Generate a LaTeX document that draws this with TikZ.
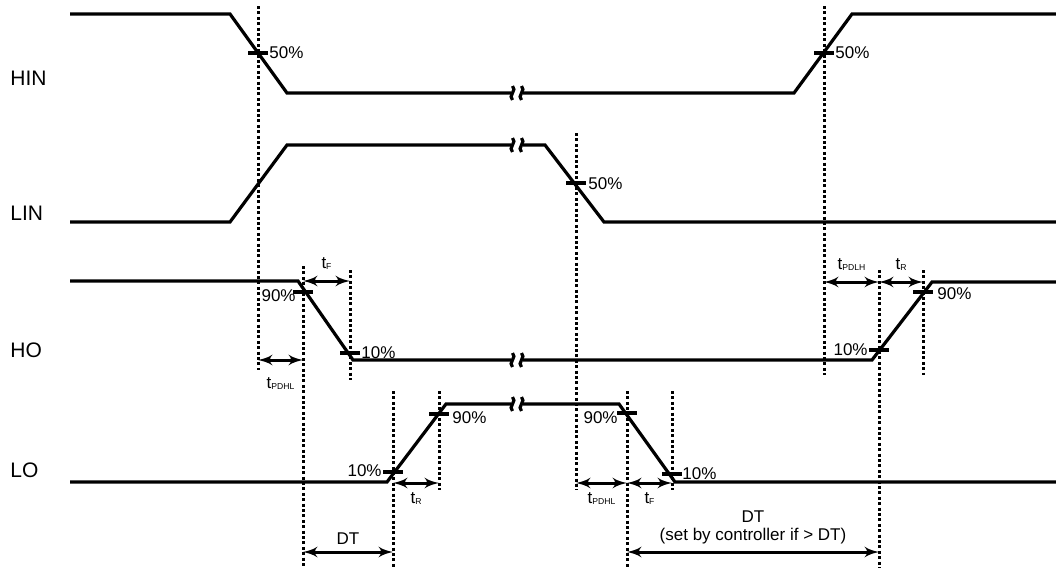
\documentclass[tikz,border=0pt]{standalone}
\usepackage{fontspec}
\setmainfont{Liberation Sans}
\usetikzlibrary{positioning, arrows}
\tikzstyle{sig}=[line width=1.6pt, line join=miter]
\tikzstyle{guide}=[line width=1.5pt, dash pattern=on 1.5pt off 1.2pt]
\tikzstyle{tickmark}=[line width=1.6pt]
\tikzstyle{span}=[<->, line width=1.5pt]
\tikzstyle{pct}=[font=\fontsize{8.5}{10}\selectfont, inner sep=1pt]
\tikzstyle{lbl}=[font=\fontsize{10.5}{12}\selectfont, inner sep=0pt]
\newcommand{\tsub}[1]{t\raisebox{-0.4pt}{\fontsize{4.3}{5}\selectfont #1}}
\newcommand{\tickat}[2]{\draw[tickmark] (#1-10,#2) -- (#1+10,#2);}
\newcommand{\brk}[1]{\draw[line width=1.6pt] (512.5,#1-7) .. controls (517.5,#1-3) and (507.5,#1+3) .. (512.5,#1+7);
  \draw[line width=1.6pt] (521.5,#1-7) .. controls (526.5,#1-3) and (516.5,#1+3) .. (521.5,#1+7);}

\begin{document}
\begin{tikzpicture}[x=0.5pt, y=-0.5pt, > = latex']
  \useasboundingbox (0,0) rectangle (1056,568);
  % signal names
  \node[lbl, anchor=west] (hin) at (10,78) {HIN};
  \node[lbl, anchor=west] (lin) at (10,213) {LIN};
  \node[lbl, anchor=west] (ho) at (10,350) {HO};
  \node[lbl, anchor=west] (lo) at (10,470) {LO};

  % waveforms
  \draw[sig] (70,14) -- (230,14) -- (287,93) -- (511,93) (523,93) -- (794,93) -- (852,14) -- (1056,14);
  \draw[sig] (70,222) -- (230,222) -- (287,145) -- (511,145) (523,145) -- (545,145) -- (604,222) -- (1056,222);
  \draw[sig] (70,281) -- (298,281) -- (353,360) -- (511,360) (523,360) -- (872,360) -- (932,282) -- (1056,282);
  \draw[sig] (70,482) -- (387,482) -- (446,404) -- (511,404) (523,404) -- (619,404) -- (675,482) -- (1056,482);
  \brk{93} \brk{145} \brk{360} \brk{404}

  % guide lines
  \draw[guide] (258,6) -- (258,370);
  \draw[guide] (824,6) -- (824,375);
  \draw[guide] (576,133) -- (576,490);
  \draw[guide] (303,266) -- (303,568);
  \draw[guide] (350,270) -- (350,380);
  \draw[guide] (393,391) -- (393,568);
  \draw[guide] (439,391) -- (439,490);
  \draw[guide] (627,391) -- (627,568);
  \draw[guide] (672,391) -- (672,490);
  \draw[guide] (879,270) -- (879,568);
  \draw[guide] (923,270) -- (923,375);

  % level marks
  \tickat{258}{53} \tickat{824}{53} \tickat{576}{183}
  \tickat{303}{292} \tickat{350}{353} \tickat{879}{350} \tickat{923}{292}
  \tickat{393}{472} \tickat{439}{414} \tickat{627}{413} \tickat{672}{474}

  \node[pct, anchor=west] (p1) at (267,53) {50\%};
  \node[pct, anchor=west] (p2) at (833,53) {50\%};
  \node[pct, anchor=west] (p3) at (586,184) {50\%};
  \node[pct, anchor=east] (p4) at (298,296) {90\%};
  \node[pct, anchor=west] (p5) at (359,353) {10\%};
  \node[pct, anchor=east] (p6) at (870,350) {10\%};
  \node[pct, anchor=west] (p7) at (935,294) {90\%};
  \node[pct, anchor=east] (p8) at (384,471) {10\%};
  \node[pct, anchor=west] (p9) at (450,418) {90\%};
  \node[pct, anchor=east] (p10) at (620,418) {90\%};
  \node[pct, anchor=west] (p11) at (680,474) {10\%};

  % timing spans
  \coordinate (ho1) at (258,360); \coordinate (ho2) at (303,360);
  \coordinate (ho3) at (303,281); \coordinate (ho4) at (350,281);
  \coordinate (ho5) at (824,282); \coordinate (ho6) at (879,282);
  \coordinate (ho7) at (923,282);
  \coordinate (lo1) at (393,483); \coordinate (lo2) at (439,483);
  \coordinate (lo3) at (576,483); \coordinate (lo4) at (627,483);
  \coordinate (lo5) at (672,483);
  \coordinate (dt1) at (303,552); \coordinate (dt2) at (393,552);
  \coordinate (dt3) at (627,552); \coordinate (dt4) at (879,552);

  \draw[span] (ho1) -- node[pct, below=7pt] (tpdhlA) {\tsub{PDHL}} (ho2);
  \draw[span] (ho3) -- node[pct, above=4pt] (tfA) {\tsub{F}} (ho4);
  \draw[span] (ho5) -- node[pct, above=4pt] (tpdlh) {\tsub{PDLH}} (ho6);
  \draw[span] (ho6) -- node[pct, above=4pt] (trA) {\tsub{R}} (ho7);
  \draw[span] (lo1) -- node[pct, below=3pt] (trB) {\tsub{R}} (lo2);
  \draw[span] (lo3) -- node[pct, below=3pt] (tpdhlB) {\tsub{PDHL}} (lo4);
  \draw[span] (lo4) -- node[pct, below=3pt] (tfB) {\tsub{F}} (lo5);
  \draw[span] (dt1) -- node[pct, above=2pt] (dtA) {DT} (dt2);
  \draw[span] (dt3) -- node[pct, above=2pt] (set) {(set by controller if > DT)} (dt4);
  \node[pct, above=0pt of set] (dtB) {DT};
\end{tikzpicture}
\end{document}
